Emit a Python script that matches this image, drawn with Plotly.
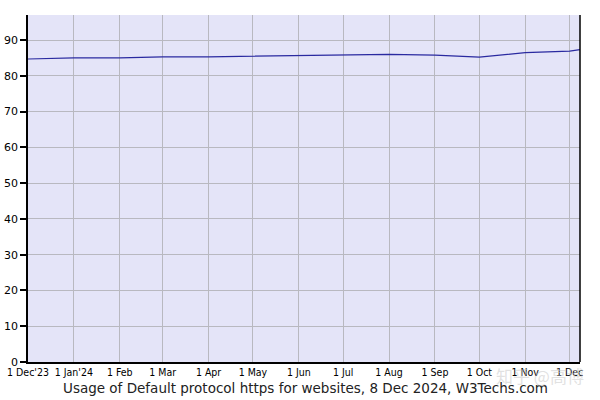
import plotly.graph_objects as go

dates = ["2023-12-01", "2024-01-01", "2024-02-01", "2024-03-01", "2024-04-01", "2024-05-01",
         "2024-06-01", "2024-07-01", "2024-08-01", "2024-09-01", "2024-10-01", "2024-11-01",
         "2024-12-01", "2024-12-08"]
usage = [84.7, 85.0, 85.0, 85.3, 85.3, 85.5, 85.8, 85.8, 86.0, 85.8, 85.2, 86.5, 86.9, 87.3]

tick_dates = ["2023-12-01", "2024-01-01", "2024-02-01", "2024-03-01", "2024-04-01", "2024-05-01",
              "2024-06-01", "2024-07-01", "2024-08-01", "2024-09-01", "2024-10-01", "2024-11-01",
              "2024-12-01"]
tick_text = ["1 Dec'23", "1 Jan'24", "1 Feb", "1 Mar", "1 Apr", "1 May", "1 Jun", "1 Jul",
             "1 Aug", "1 Sep", "1 Oct", "1 Nov", "1 Dec"]
y_ticks = [0, 10, 20, 30, 40, 50, 60, 70, 80, 90]

title = "Usage of Default protocol https for websites, 8 Dec 2024, W3Techs.com"

fig = go.Figure()
fig.add_trace(go.Scatter(x=dates, y=usage, mode="lines",
                         line=dict(color="#2a2aa0", width=1.2), hoverinfo="skip"))

fig.update_layout(
    width=600, height=400,
    margin=dict(l=28, r=20, t=15, b=38),
    paper_bgcolor="white",
    plot_bgcolor="#e4e4f8",
    showlegend=False,
    font=dict(family="DejaVu Sans", size=10, color="black"),
)
fig.update_xaxes(
    type="date", range=["2023-12-01", "2024-12-08"],
    tickvals=tick_dates, ticktext=tick_text,
    showgrid=True, gridcolor="#b8b8c0", gridwidth=1,
    showline=True, linecolor="black", linewidth=1.5, mirror=False,
    ticks="", tickfont=dict(family="DejaVu Sans Condensed, DejaVu Sans", size=10.5),
    zeroline=False, automargin=False,
)
fig.update_yaxes(
    range=[0, 97], tickvals=y_ticks,
    showgrid=True, gridcolor="#b8b8c0", gridwidth=1,
    showline=True, linecolor="black", linewidth=1.5,
    ticks="outside", ticklen=6, tickcolor="black", tickwidth=1.5,
    tickfont=dict(family="DejaVu Sans", size=11),
    zeroline=False, automargin=False,
)
# right border line
fig.add_shape(type="line", xref="paper", yref="paper", x0=1, x1=1, y0=0, y1=1,
              line=dict(color="black", width=1.5))

fig.add_annotation(text=title, xref="paper", yref="paper", x=0.5, y=0, yshift=-16, xshift=1,
                   xanchor="center", yanchor="top", showarrow=False,
                   font=dict(family="DejaVu Sans", size=13.5, color="#222"))
fig.add_annotation(text="知乎 @高博", xref="paper", yref="paper", x=1.0, y=0, yshift=1, xshift=6,
                   xanchor="right", yanchor="top", showarrow=False,
                   font=dict(family="Noto Sans CJK SC", size=17, color="rgba(200,200,200,0.55)"))

fig.write_html("out.html", post_script="document.body.style.margin='0';",
               config={"displayModeBar": False})
